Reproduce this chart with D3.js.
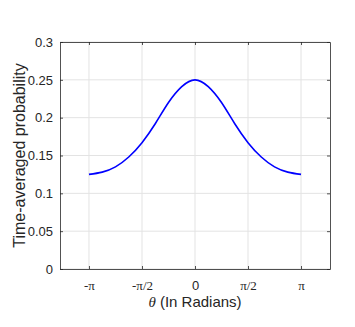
<!DOCTYPE html>
<html>
<head>
<meta charset="utf-8">
<script src="https://cdn.jsdelivr.net/npm/d3@7"></script>
<style>
  body { margin: 0; background: #fff; }
  svg text { font-family: "Liberation Sans", Arial, sans-serif; fill: #262626; }
</style>
</head>
<body>
<script>
// theta in steps of pi/8, from -pi to pi
var thetaSteps = [-8, -7, -6, -5, -4, -3, -2, -1, 0, 1, 2, 3, 4, 5, 6, 7, 8];
var probValues = [0.125, 0.128, 0.135, 0.148, 0.167, 0.192, 0.220, 0.241, 0.250,
                  0.241, 0.220, 0.192, 0.167, 0.148, 0.135, 0.128, 0.125];
var xTickValues = [-Math.PI, -Math.PI / 2, 0, Math.PI / 2, Math.PI];
var xTickLabels = ["-\u03c0", "-\u03c0/2", "0", "\u03c0/2", "\u03c0"];
var yTickValues = [0, 0.05, 0.1, 0.15, 0.2, 0.25, 0.3];

var data = thetaSteps.map(function(k, i) {
    return { theta: k * Math.PI / 8, p: probValues[i] };
});

// set the dimensions and margins of the graph
var margin = {top: 42, right: 25, bottom: 58, left: 60},
    width = 355 - margin.left - margin.right,
    height = 327 - margin.top - margin.bottom;

var x = d3.scaleLinear().domain([-4, 4]).range([0, width]);
var y = d3.scaleLinear().domain([0, 0.3]).range([height, 0]);

var svg = d3.select("body").append("svg")
    .attr("width", 355)
    .attr("height", 327)
  .append("g")
    .attr("transform", "translate(" + margin.left + "," + margin.top + ")");

// grid
svg.append("g").selectAll("line.gx")
    .data(xTickValues).enter().append("line")
    .attr("x1", function(d) { return x(d); })
    .attr("x2", function(d) { return x(d); })
    .attr("y1", 0).attr("y2", height)
    .style("stroke", "#e3e3e3").style("stroke-width", 1);
svg.append("g").selectAll("line.gy")
    .data(yTickValues).enter().append("line")
    .attr("x1", 0).attr("x2", width)
    .attr("y1", function(d) { return y(d); })
    .attr("y2", function(d) { return y(d); })
    .style("stroke", "#e3e3e3").style("stroke-width", 1);

// the curve
var line = d3.line()
    .x(function(d) { return x(d.theta); })
    .y(function(d) { return y(d.p); })
    .curve(d3.curveNatural);

svg.append("path")
    .datum(data)
    .attr("d", line)
    .style("fill", "none")
    .style("stroke", "#0000ff")
    .style("stroke-width", 1.6);

// axes, ticks pointing inward
var axisColor = "#262626";
var xAxis = svg.append("g")
    .attr("transform", "translate(0," + height + ")")
    .call(d3.axisBottom(x).tickValues(xTickValues)
        .tickFormat(function(d, i) { return xTickLabels[i]; })
        .tickSizeInner(-3).tickSizeOuter(0).tickPadding(12));
var yAxis = svg.append("g")
    .call(d3.axisLeft(y).tickValues(yTickValues)
        .tickFormat(d3.format("~g"))
        .tickSizeInner(-3).tickSizeOuter(0).tickPadding(7));
var xTop = svg.append("g")
    .call(d3.axisTop(x).tickValues(xTickValues).tickFormat("")
        .tickSizeInner(-3).tickSizeOuter(0));
var yRight = svg.append("g")
    .attr("transform", "translate(" + width + ",0)")
    .call(d3.axisRight(y).tickValues(yTickValues).tickFormat("")
        .tickSizeInner(-3).tickSizeOuter(0));

[xAxis, yAxis, xTop, yRight].forEach(function(g) {
    g.selectAll("path").style("stroke", axisColor).style("stroke-width", 0.8);
    g.selectAll("line").style("stroke", axisColor).style("stroke-width", 0.8);
    g.selectAll("text").style("font-size", "13px").style("fill", axisColor)
        .style("font-family", "'Liberation Sans', Arial, sans-serif");
});
xAxis.selectAll("text").style("font-family", "'Liberation Serif', 'Times New Roman', serif")
    .style("font-size", "13px");
xAxis.selectAll("text").filter(function(d) { return d === 0; })
    .style("font-family", "'Liberation Sans', Arial, sans-serif");

// axis labels
var xLabel = svg.append("text")
    .attr("x", x(0))
    .attr("y", height + 38)
    .attr("text-anchor", "middle")
    .style("font-size", "15px");
xLabel.append("tspan")
    .style("font-family", "'Liberation Serif', 'Times New Roman', serif")
    .style("font-style", "italic")
    .text("\u03b8");
xLabel.append("tspan").text(" (In Radians)");

svg.append("text")
    .attr("transform", "translate(" + (-35) + "," + (height / 2) + ") rotate(-90)")
    .attr("text-anchor", "middle")
    .style("font-size", "16px")
    .text("Time-averaged probability");
</script>
</body>
</html>
